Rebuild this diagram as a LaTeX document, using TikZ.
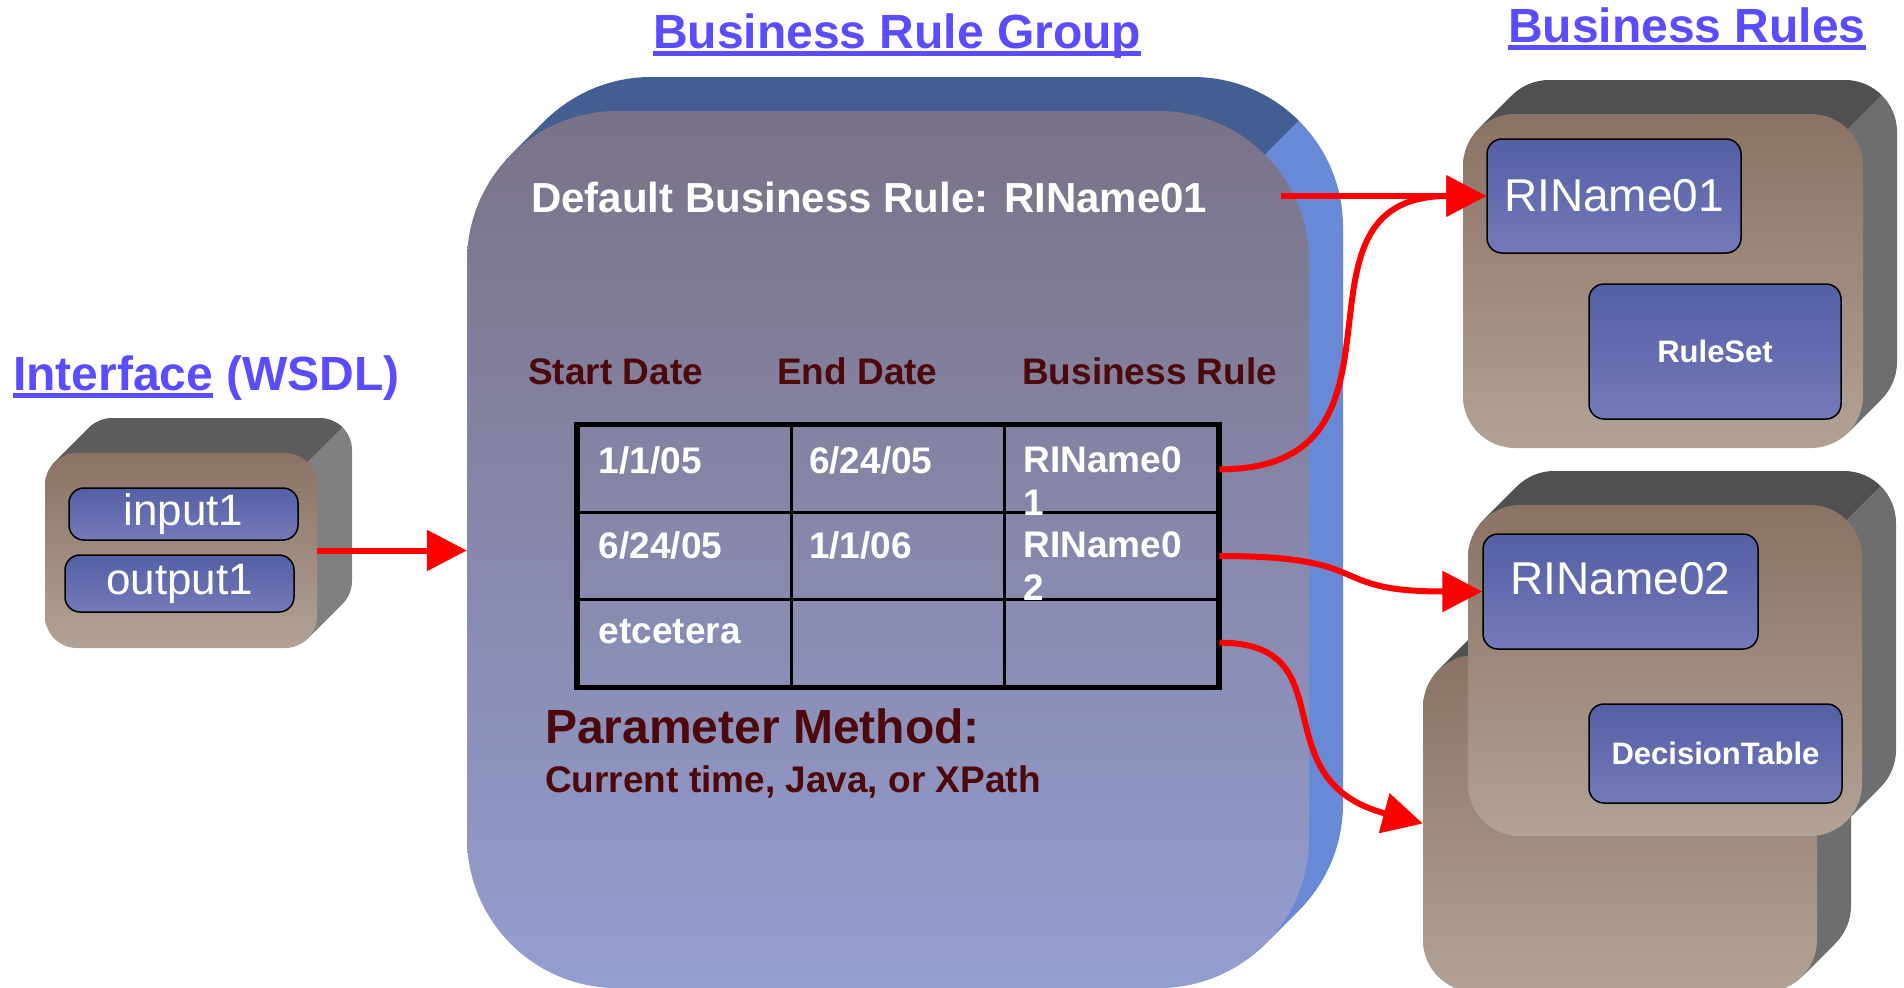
\documentclass[tikz,border=0pt]{standalone}
\usepackage{fontspec}
\setmainfont{Liberation Sans}
\usetikzlibrary{arrows.meta}

\definecolor{titleblue}{RGB}{90,76,255}
\definecolor{headred}{RGB}{76,8,10}
\definecolor{arrowred}{RGB}{255,0,0}
\definecolor{grptop}{RGB}{122,114,135}
\definecolor{grpbot}{RGB}{148,158,208}
\definecolor{grpband}{RGB}{69,94,146}
\definecolor{grpside}{RGB}{104,138,214}
\definecolor{claytop}{RGB}{138,114,100}
\definecolor{claybot}{RGB}{178,162,150}
\definecolor{ifacetop}{RGB}{92,92,92}
\definecolor{ifaceside}{RGB}{128,128,128}
\definecolor{slabtop}{RGB}{80,80,80}
\definecolor{slabside}{RGB}{110,110,110}
\definecolor{slottop}{RGB}{84,95,164}
\definecolor{slotbot}{RGB}{117,121,185}

\newcommand{\pts}[2]{\fontsize{#1}{#2}\selectfont}
\newcommand{\thickul}[1]{\setbox0=\hbox{#1}\rlap{\rule[-8pt]{\wd0}{5pt}}\box0\relax}
% back of a slab: x1,y1,x2,y2,radius,depth,top colour,side colour
\newcommand{\extrude}[8]{%
  \pgfmathsetmacro{\slabpx}{#3-#5+0.707*#5}%
  \pgfmathsetmacro{\slabpy}{#2+#5-0.707*#5}%
  \begin{scope}
    \clip (\slabpx+2000,\slabpy-2000) -- (\slabpx-2000,\slabpy+2000) -- (\slabpx-2000,\slabpy-2000) -- cycle;
    \foreach \k in {1,...,#6} \fill[#7,rounded corners=#5pt] (#1+\k,#2-\k) rectangle (#3+\k,#4-\k);
  \end{scope}
  \begin{scope}
    \clip (\slabpx+2000,\slabpy-2000) -- (\slabpx-2000,\slabpy+2000) -- (\slabpx+2000,\slabpy+2000) -- cycle;
    \foreach \k in {1,...,#6} \fill[#8,rounded corners=#5pt] (#1+\k,#2-\k) rectangle (#3+\k,#4-\k);
  \end{scope}}

\begin{document}
\begin{tikzpicture}[x=1pt,y=-1pt,font=\bfseries]
  \path[use as bounding box] (0,0) rectangle (1904,988);
  \clip (0,0) rectangle (1904,988);
  \fill[white] (0,0) rectangle (1904,988);

  \tikzset{title/.style={text=titleblue,font=\pts{48}{56}\bfseries,inner sep=0pt,anchor=base west},
    face/.style n args={3}{top color=#1,bottom color=#2,rounded corners=#3,inner sep=0pt},
    slot/.style={draw=black,line width=1.5pt,rounded corners=15pt,top color=slottop,
      bottom color=slotbot,text=white,inner sep=0pt},
    cell/.style={draw=black,line width=3pt,minimum width=213.3pt,minimum height=86.7pt,inner sep=0pt},
    celltext/.style={text=white,font=\pts{37}{43}\bfseries,anchor=north west,inner sep=0pt,align=left},
    head/.style={text=headred,font=\pts{37}{43}\bfseries,anchor=base west,inner sep=0pt},
    link/.style={draw=arrowred,line width=6pt,-{Triangle[length=40pt,width=40pt]}}}

  \node[title] (ttlif) at (13,390) {\thickul{Interface} (WSDL)};
  \node[title] (ttlgrp) at (653,48) {\thickul{Business Rule Group}};
  \node[title] (ttlrules) at (1508,42) {\thickul{Business Rules}};

  % interface
  \extrude{45}{453}{317}{648}{32}{35}{ifacetop}{ifaceside}
  \node[face={claytop}{claybot}{32pt},minimum width=272pt,minimum height=195pt] (iface) at (181,550.5) {};
  \node[slot,minimum width=229pt,minimum height=52pt,font=\pts{44}{50}\mdseries] (in1) at (183.5,514) {input1};
  \node[slot,minimum width=229pt,minimum height=57pt,font=\pts{44}{50}\mdseries] (out1) at (179.5,583.5) {output1};

  % business rule group
  \extrude{467}{111}{1309}{988}{150}{34}{grpband}{grpside}
  \node[face={grptop}{grpbot}{150pt},minimum width=842pt,minimum height=877pt] (grp) at (888,549.5) {};
  \node[anchor=base west,inner sep=0pt,text=white,font=\pts{42}{50}\bfseries] (dflt) at (531,212)
    {Default Business Rule: RIName01};
  \node[head] (hstart) at (528,384) {Start Date};
  \node[head] (hend) at (777,384) {End Date};
  \node[head] (hrule) at (1022,384) {Business Rule};

  \foreach \r in {1,2,3}
    \foreach \c in {1,2,3}
      \node[cell] (c\r\c) at ({578+213.33*(\c-0.5)},{426+86.67*(\r-0.5)}) {};
  \draw[line width=5pt] (c11.north west) rectangle (c33.south east);
  \node[celltext] (t11) at ([shift={(22,22)}]c11.north west) {1/1/05};
  \node[celltext] (t12) at ([shift={(19,22)}]c12.north west) {6/24/05};
  \node[celltext] (t13) at ([shift={(20,22)}]c13.north west) {RIName0\\1};
  \node[celltext] (t21) at ([shift={(22,20)}]c21.north west) {6/24/05};
  \node[celltext] (t22) at ([shift={(19,20)}]c22.north west) {1/1/06};
  \node[celltext] (t23) at ([shift={(20,20)}]c23.north west) {RIName0\\2};
  \node[celltext] (t31) at ([shift={(22,21)}]c31.north west) {etcetera};

  \node[anchor=base west,inner sep=0pt,text=headred,font=\pts{48}{56}\bfseries] (pmeth) at (545,743)
    {Parameter Method:};
  \node[anchor=base west,inner sep=0pt,text=headred,font=\pts{37}{43}\bfseries] (pkinds) at (545,792)
    {Current time, Java, or XPath};

  % business rules
  \extrude{1463}{114}{1863}{448}{52}{34}{slabtop}{slabside}
  \node[face={claytop}{claybot}{52pt},minimum width=400pt,minimum height=334pt] (rules1) at (1663,281) {};
  \node[slot,minimum width=254pt,minimum height=114pt,font=\pts{46}{54}\mdseries] (rl1) at (1614,196) {RIName01};
  \node[slot,minimum width=252pt,minimum height=135pt,font=\pts{31}{37}\bfseries] (rset) at (1715,351.5) {RuleSet};

  \extrude{1423}{655}{1817}{992}{52}{34}{slabtop}{slabside}
  \node[face={claytop}{claybot}{52pt},minimum width=394pt,minimum height=337pt] (rules3) at (1620,823.5) {};
  \extrude{1468}{505}{1862}{836}{52}{34}{slabtop}{slabside}
  \node[face={claytop}{claybot}{52pt},minimum width=394pt,minimum height=331pt] (rules2) at (1665,670.5) {};
  \node[slot,minimum width=275pt,text height=60pt,text depth=55pt,font=\pts{46}{54}\mdseries] (rl2)
    at (1620.5,591.5) {RIName02};
  \node[slot,minimum width=253pt,minimum height=99pt,font=\pts{31}{37}\bfseries] (dtab) at (1715.5,753.5)
    {DecisionTable};

  % connectors
  \coordinate (dfltout) at (1281,196);
  \draw[link] (iface.east) -- (iface.east -| grp.west);
  \draw[link] (dfltout) -- (rl1.west);
  \draw[link] (c13.east) .. controls +(215,0) and +(-215,0) .. (rl1.west);
  \draw[link] (c23.east) .. controls +(160,0) and +(-160,0) .. (rl2.west);
  \draw[link] (c33.east) .. controls +(130,0) and +(-165,-44) .. (rules3.west);
\end{tikzpicture}
\end{document}
